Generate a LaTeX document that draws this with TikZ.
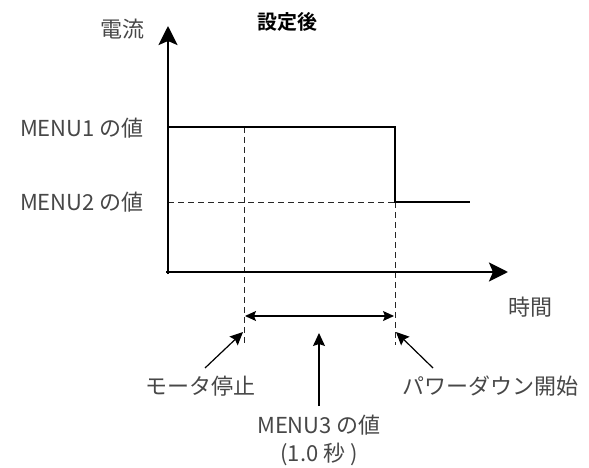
\documentclass[tikz,border=0pt]{standalone}
\usepackage{fontspec}
\setmainfont{Noto Sans CJK JP}
\newfontfamily\cjkb{Noto Sans CJK JP}[BoldFont={* Bold}]
\usetikzlibrary{arrows.meta}
\definecolor{txt}{HTML}{474747}
\tikzset{
  lbl/.style={text=txt,font=\fontsize{22}{28}\selectfont,inner sep=0pt},
  axis/.style={line width=2.8pt,-{Stealth[length=19pt,width=19pt,inset=4pt]}},
  sig/.style={line width=1.4pt},
  guide/.style={line width=0.8pt,dash pattern=on 6pt off 4pt,draw=black!85},
  ptr/.style={line width=1.2pt,-{Stealth[length=13pt,width=12pt,inset=2pt]}},
  tip/.tip={Stealth[length=11pt,width=10pt,inset=2pt]},
}
\begin{document}
\begin{tikzpicture}[x=1pt,y=-1pt]
\useasboundingbox (0,0) rectangle (589,468);
% coordinates
\coordinate (o) at (168,274);
\coordinate (ytip) at (168,26);
\coordinate (xs) at (166,272);
\coordinate (xtip) at (508,272);
\coordinate (h1s) at (168,127);
\coordinate (h1e) at (395,127);
\coordinate (h2s) at (395,202);
\coordinate (h2e) at (470,202);
\coordinate (d2s) at (168,202);
\coordinate (v1t) at (244,127);
\coordinate (v1b) at (244,345);
\coordinate (v2b) at (395,345);
\coordinate (da) at (245,316);
\coordinate (db) at (394,316);
\coordinate (p1) at (243,332);
\coordinate (p2) at (319,333);
\coordinate (p3) at (396,332);
\coordinate (q1) at (205,368);
\coordinate (q2) at (319,406);
\coordinate (q3) at (433,368);
% guides
\draw[guide] (d2s) -- (h2s);
\draw[guide] (v1t) -- (v1b);
\draw[guide] (h2s) -- (v2b);
% axes
\draw[axis] (o) -- (ytip);
\draw[axis] (xs) -- (xtip);
% signal
\draw[sig] (h1s) -- (h1e) -- (h2s) -- (h2e);
% labels
\node[lbl,anchor=east] (yl) at (145,29) {電流};
\node[font=\cjkb\bfseries\fontsize{20}{24}\selectfont,inner sep=0pt] (title) at (287,22) {設定後};
\node[lbl,anchor=east] (m1) at (144,128) {MENU1 の値};
\node[lbl,anchor=east] (m2) at (144,202) {MENU2 の値};
\node[lbl] (xl) at (530,307) {時間};
\node[lbl] (stop) at (200,386) {モータ停止};
\node[lbl] (pd) at (490,386) {パワーダウン開始};
\node[lbl,align=center] (m3) at (319,440) {MENU3 の値\\(1.0 秒 )};
% arrows
\draw[line width=1.2pt,tip-tip] (da) -- (db);
\draw[ptr] (q1) -- (p1);
\draw[ptr] (q2) -- (p2);
\draw[ptr] (q3) -- (p3);
\end{tikzpicture}
\end{document}
